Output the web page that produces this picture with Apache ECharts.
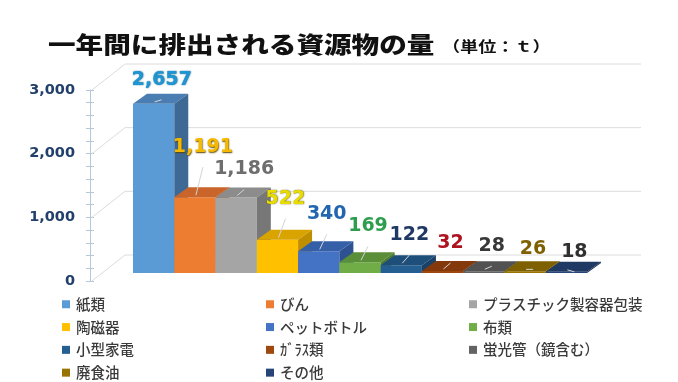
<!DOCTYPE html>
<html>
<head>
<meta charset="utf-8">
<script src="https://cdn.jsdelivr.net/npm/echarts@6/dist/echarts.min.js"></script>
<style>
html,body{margin:0;padding:0;background:#fff;}
#chart{width:678px;height:382px;}
</style>
</head>
<body>
<div id="chart"></div>
<script>
// ---- data ----
const categories = ['紙類','びん','プラスチック製容器包装','陶磁器','ペットボトル','布類','小型家電','ｶﾞﾗｽ類','蛍光管（鏡含む）','廃食油','その他'];
const values = [2657, 1191, 1186, 522, 340, 169, 122, 32, 28, 26, 18];
const yTickValues = [0, 1000, 2000, 3000];
const titleText = '一年間に排出される資源物の量';
const unitText = '（単位：ｔ）';

// ---- styles ----
const frontColors = ['#5B9BD5','#ED7D31','#A5A5A5','#FFC000','#4472C4','#70AD47','#255E91','#9E480E','#636363','#997300','#264478'];
const topColors   = ['#4A7DB2','#C9652A','#8C8C8C','#D9A300','#3560A8','#5A8E38','#1E4E7A','#83390B','#525252','#7F6000','#1F3864'];
const sideColors  = ['#3E6995','#AD5722','#777777','#BF8F00','#2E5291','#4E7C31','#1A4268','#70300A','#454545','#6B5100','#1A3055'];
const labelColors = ['#1E96D2','#F5BA00','#6E6E6E','#E8DC00','#2366B0','#2E9E4E','#1F3864','#AE1420','#383838','#7F6000','#303030'];
const labelShadows= ['#155E8C','#5C4500',null,'#5C5700',null,null,null,null,null,null,null];
const LABEL_LIFT = [24, 50, 28, 41, 37, 36, 30, 28, 25, 22, 20];
const LIFT = 8;          // front faces sit slightly above the axis baseline
const DX = 14, DY = -10; // bar depth
const WALL_DX = 33, WALL_DY = -26, WALL_EXTRA = 54, AXIS_OFFSET = 43;

function fmt(v){ return v.toLocaleString('en-US'); }

function makeBarRender(i){
  return function(params, api){
    const idx = api.value(0), v = api.value(1);
    const top = api.coord([idx, v]);
    const base = api.coord([idx, 0]);
    const w = api.size([1, 0])[0];
    const x0 = top[0] - w/2, x1 = top[0] + w/2;
    const yT = top[1] - LIFT, yB = base[1] - LIFT;
    const cx = top[0];
    const lx = cx + 8, ly = yT - LABEL_LIFT[i];
    const textStyle = {
      text: fmt(v), fill: labelColors[i],
      font: 'bold 19px "DejaVu Sans", Verdana, sans-serif',
      align:'center', verticalAlign:'middle'
    };
    if (labelShadows[i]) {
      textStyle.textShadowColor = labelShadows[i];
      textStyle.textShadowBlur = 1.5;
      textStyle.textShadowOffsetX = 0.5;
      textStyle.textShadowOffsetY = 0.5;
    }
    const children = [
      {type:'rect', shape:{x:x0, y:yT, width:w, height:Math.max(yB-yT,0)}, style:{fill:frontColors[i]}, z2:1},
      {type:'polygon', shape:{points:[[x0,yT],[x1,yT],[x1+DX,yT+DY],[x0+DX,yT+DY]]}, style:{fill:topColors[i]}, z2:1},
      {type:'polygon', shape:{points:[[x1,yT],[x1+DX,yT+DY],[x1+DX,yB+DY],[x1,yB]]}, style:{fill:sideColors[i]}, z2:1},
      {type:'line', shape:{x1:lx, y1:ly+20, x2:cx+1, y2:yT-2}, style:{stroke:'#D4D4D4', lineWidth:1}, z2:2},
      {type:'text', x:lx, y:ly, z2:100, style:textStyle}
    ];
    return {type:'group', children};
  };
}

function renderWall(params, api){
  const v = api.value(1);
  const p = api.coord([0, v]);
  const w = api.size([1, 0])[0];
  const gridLeft = p[0] - w/2;
  const axisX = gridLeft - AXIS_OFFSET;
  const rightX = gridLeft + categories.length * w + WALL_EXTRA;
  return {type:'polyline', shape:{points:[[axisX+2, p[1]],[axisX+2+WALL_DX, p[1]+WALL_DY],[rightX, p[1]+WALL_DY]]},
    style:{stroke:'#DCDCDC', lineWidth:1, fill:null}};
}

const series = [{
  type:'custom', name:'wall', renderItem: renderWall, z:1, silent:true,
  data: yTickValues.map(v => [0, v])
}];
categories.forEach((c, i) => {
  series.push({
    type:'custom', name:c, renderItem: makeBarRender(i), z:2,
    itemStyle:{color: frontColors[i]},
    data:[[i, values[i]]]
  });
});

const legendCols = [
  [categories[0], categories[3], categories[6], categories[9]],
  [categories[1], categories[4], categories[7], categories[10]],
  [categories[2], categories[5], categories[8]]
];
const legendLefts = [62, 266, 469];
const legends = legendCols.map((d, k) => ({
  data: d, orient:'vertical', left: legendLefts[k], top: 297, padding:0,
  icon:'rect', itemWidth:8, itemHeight:8, itemGap:8.3, selectedMode:false,
  textStyle:{fontFamily:'"Noto Sans CJK JP", sans-serif', fontSize:14.5, fontWeight:500, color:'#3A3A3A', lineHeight:14, padding:[0,0,0,1]}
}));

const axisColor = '#B7C7DA';
const option = {
  animation:false,
  backgroundColor:'#fff',
  grid:{left:133, right:91, top:90, bottom:101},
  xAxis:{type:'category', data:categories, show:false},
  yAxis:[{
    type:'value', min:0, max:3000, interval:200, position:'left', offset:AXIS_OFFSET,
    axisLine:{show:true, lineStyle:{color:axisColor, width:1}},
    axisTick:{show:true, length:4, inside:false, lineStyle:{color:axisColor}},
    splitLine:{show:false},
    axisLabel:{margin:15, color:'#22406A', fontFamily:'"DejaVu Sans", Verdana, sans-serif', fontWeight:'bold', fontSize:14.5,
      formatter: v => yTickValues.indexOf(v) >= 0 ? fmt(v) : ''}
  },{
    type:'value', min:0, max:3000, interval:200, position:'left', offset:AXIS_OFFSET,
    axisLine:{show:false},
    axisTick:{show:true, length:4, inside:true, lineStyle:{color:axisColor}},
    splitLine:{show:false}, axisLabel:{show:false}
  }],
  legend: legends,
  graphic:[
    {type:'text', x:48, y:44, scaleX:1.2, style:{text:titleText, font:'900 23px "Noto Sans CJK JP", sans-serif', fill:'#111', verticalAlign:'middle'}},
    {type:'text', x:442, y:46, scaleX:1.25, style:{text:unitText, font:'bold 14.5px "Noto Sans CJK JP", sans-serif', fill:'#111', verticalAlign:'middle'}}
  ],
  series
};
const chart = echarts.init(document.getElementById('chart'));
chart.setOption(option);
</script>
</body>
</html>
